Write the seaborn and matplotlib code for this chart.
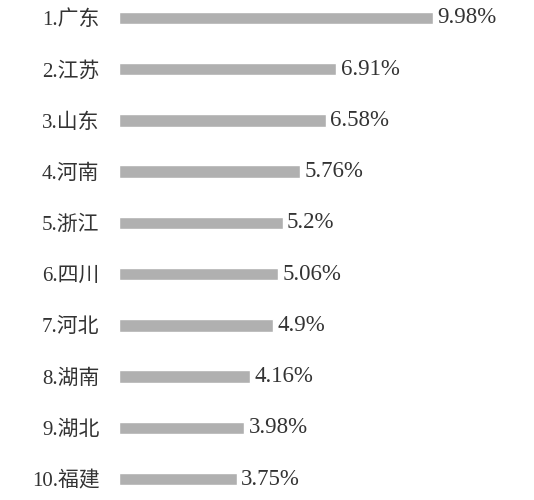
import pandas as pd
import matplotlib
matplotlib.use('Agg')
import matplotlib.pyplot as plt
import seaborn as sns

# data
provinces = ['1.广东', '2.江苏', '3.山东', '4.河南', '5.浙江',
             '6.四川', '7.河北', '8.湖南', '9.湖北', '10.福建']
shares = [9.98, 6.91, 6.58, 5.76, 5.2, 5.06, 4.9, 4.16, 3.98, 3.75]
share_labels = ['9.98%', '6.91%', '6.58%', '5.76%', '5.2%',
                '5.06%', '4.9%', '4.16%', '3.98%', '3.75%']

df = pd.DataFrame({'province': provinces, 'share': shares})

sns.set_style('white')
plt.rcParams['font.family'] = ['Liberation Serif', 'Noto Sans CJK SC', 'DejaVu Sans']

fig = plt.figure(figsize=(5.34, 5.0), dpi=100)
ax = fig.add_axes([119 / 534, 0.006, 0.95 - 119 / 534, 0.994])

sns.barplot(data=df, y='province', x='share', orient='h', color='#b0b0b0',
            saturation=1, width=0.24, ax=ax)

ax.bar_label(ax.containers[0], labels=share_labels, padding=3,
             fontsize=16.5, color='#333333')

ax.set_xlim(0, 12.34)
ax.set_ylim(9.35, -0.35)
ax.set_xlabel('')
ax.set_ylabel('')
ax.set_xticks([])
ax.tick_params(axis='y', length=0, pad=14, labelsize=15, labelcolor='#333333')
for lbl in ax.get_yticklabels():
    lbl.set_fontweight('light')
sns.despine(ax=ax, left=True, bottom=True)

fig.savefig('out.png', dpi=100)
